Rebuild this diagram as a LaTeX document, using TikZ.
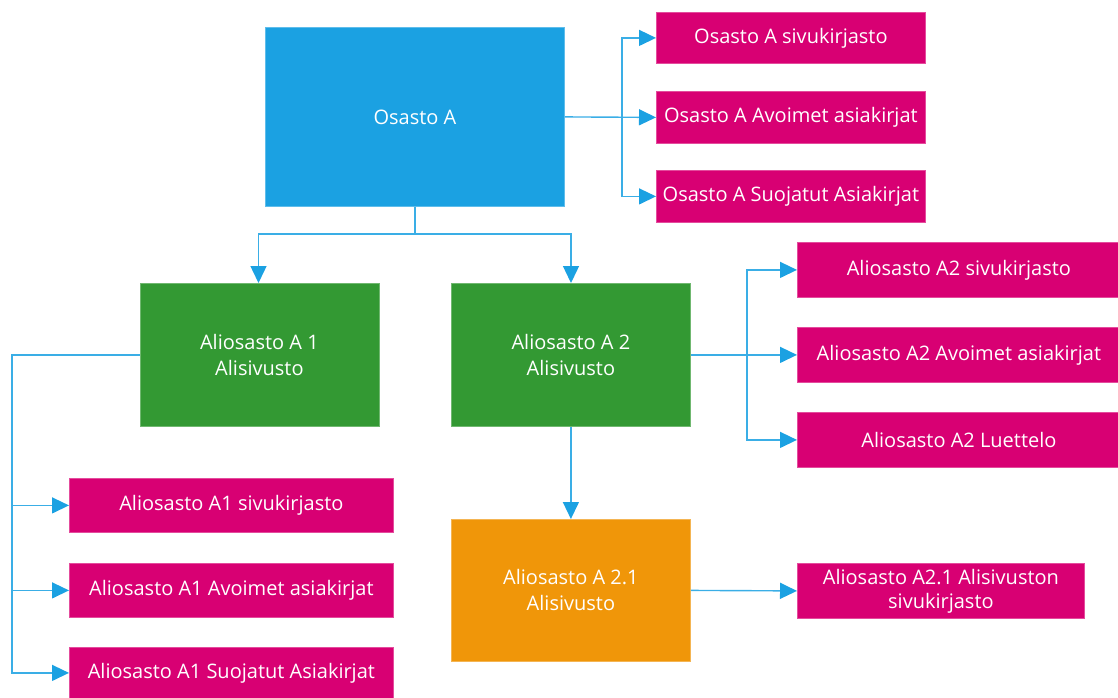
\documentclass[tikz,border=0pt]{standalone}
\usepackage{fontspec}
\setmainfont{Open Sans}
\usetikzlibrary{arrows.meta}

\definecolor{deptblue}{HTML}{1BA1E2}
\definecolor{subgreen}{HTML}{339933}
\definecolor{subsuborange}{HTML}{F09609}
\definecolor{libmagenta}{HTML}{D80073}
\definecolor{linkblue}{HTML}{3AAEE6}

\tikzset{
  x=1pt, y=-1pt,
  orgbox/.style={anchor=north west, inner sep=2pt, align=center, text=white,
    font=\fontsize{20}{26}\selectfont, line width=0.8pt},
  deptbox/.style={orgbox, fill=deptblue, draw=deptblue!70!white},
  subbox/.style={orgbox, fill=subgreen, draw=subgreen!70!white},
  subsubbox/.style={orgbox, fill=subsuborange, draw=subsuborange!70!white},
  libbox/.style={orgbox, fill=libmagenta, draw=libmagenta!70!white},
  link/.style={draw=linkblue, line width=1.4pt},
  arr/.style={link, -{Triangle[length=17pt, width=16pt, color=deptblue]}},
}

\newcommand{\bx}[6]{% style, name, left, top, width, height
  \node[#1, minimum width=#5, minimum height=#6] (#2) at (#3,#4)}

\begin{document}
\begin{tikzpicture}
\useasboundingbox (0,0) rectangle (1118,697);

% department
\bx{deptbox}{osA}{265}{27}{299}{179} {Osasto A};
\bx{libbox}{osAsiv}{656}{12}{269}{51} {Osasto A sivukirjasto};
\bx{libbox}{osAav}{656}{91}{269}{52} {Osasto A Avoimet asiakirjat};
\bx{libbox}{osAsuo}{656}{170}{269}{52} {Osasto A Suojatut Asiakirjat};

% subsites
\bx{subbox}{a1}{139.5}{283}{239}{143} {Aliosasto A 1\\Alisivusto};
\bx{subbox}{a2}{451}{283}{239}{143} {Aliosasto A 2\\Alisivusto};
\bx{subsubbox}{a21}{451}{519}{239}{142} {Aliosasto A 2.1\\Alisivusto};

% libraries of subsite A2
\bx{libbox}{a2siv}{797}{242}{323}{55} {Aliosasto A2 sivukirjasto};
\bx{libbox}{a2av}{797}{327}{323}{55} {Aliosasto A2 Avoimet asiakirjat};
\bx{libbox}{a2lu}{797}{412}{323}{55} {Aliosasto A2 Luettelo};

% libraries of subsite A1
\bx{libbox}{a1siv}{69}{478}{324}{54} {Aliosasto A1 sivukirjasto};
\bx{libbox}{a1av}{69}{563}{324}{54} {Aliosasto A1 Avoimet asiakirjat};
\bx{libbox}{a1suo}{69}{647}{324}{51} {Aliosasto A1 Suojatut Asiakirjat};

% library of subsite A2.1
\bx{libbox}{a21siv}{797}{563}{287}{55} {Aliosasto A2.1 Alisivuston\\[-2pt]sivukirjasto};

% trunk positions
\coordinate (tA) at (622,0);
\coordinate (tTop) at (0,234);
\coordinate (tA1) at (12,0);
\coordinate (tA2) at (747,0);

% Osasto A -> its libraries
\draw[arr] (osA.east) -- (osAav.west);
\draw[arr] (osA.east -| tA) |- (osAsiv.west);
\draw[arr] (osA.east -| tA) |- (osAsuo.west);

% Osasto A -> subsites
\draw[link] (osA.south) -- (osA.south |- tTop);
\draw[arr] (osA.south |- tTop) -| (258.5,283 |- a1.north);
\draw[arr] (osA.south |- tTop) -| (571,283 |- a2.north);

% subsite A1 -> its libraries
\draw[arr] (a1.west) -| (tA1 |- a1siv.west) -- (a1siv.west);
\draw[arr] (tA1 |- a1siv.west) |- (a1av.west);
\draw[arr] (tA1 |- a1av.west) |- (a1suo.west);

% subsite A2 -> its libraries
\draw[arr] (a2.east) -- (a2av.west);
\draw[arr] (a2.east -| tA2) |- (a2siv.west);
\draw[arr] (a2.east -| tA2) |- (a2lu.west);

% subsite A2 -> A2.1 -> its library
\draw[arr] (a2.south) -- (a21.north);
\draw[arr] (a21.east) -- (a21siv.west);
\end{tikzpicture}
\end{document}
